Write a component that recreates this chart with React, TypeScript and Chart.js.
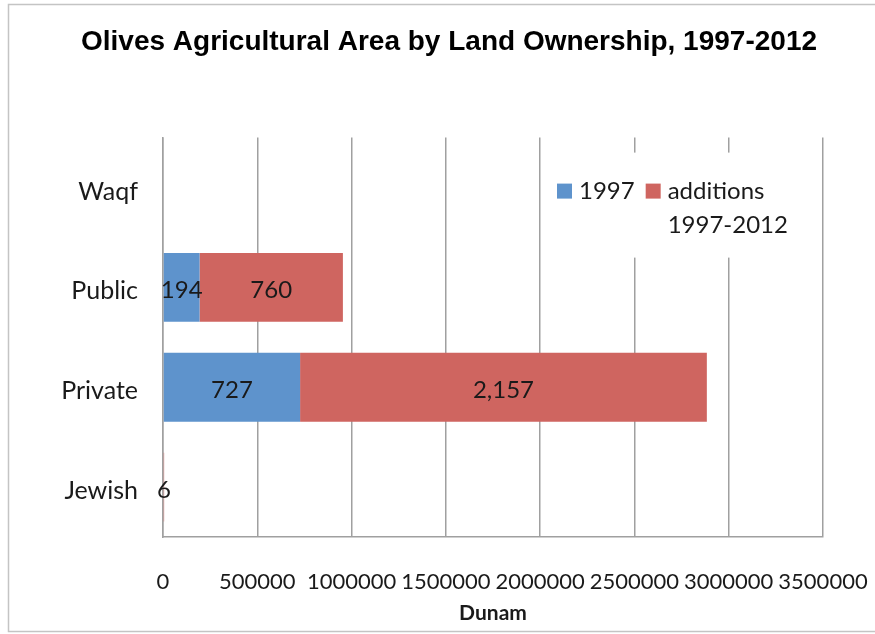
import React, { useEffect, useRef } from "react";
import { Chart, registerables } from "chart.js";

Chart.register(...registerables);

const titleText = "Olives Agricultural Area by Land Ownership, 1997-2012";
const axisTitle = "Dunam";
const categories = ["Waqf", "Public", "Private", "Jewish"];
const seriesNames = ["1997", "additions 1997-2012"];
const area1997 = [0, 194000, 727000, 0];
const additions19972012 = [0, 760000, 2157000, 6000];
const xMin = 0;
const xMax = 3500000;
const xStep = 500000;
const seriesColors = ["#5e93cc", "#cf6560"];

const FONT = "Lato, 'Open Sans', sans-serif";
const GRID = "#a0a0a0";

const framePlugin = {
  id: "frame",
  beforeDraw(chart: any) {
    const ctx = chart.ctx;
    ctx.save();
    ctx.fillStyle = "#ffffff";
    ctx.fillRect(0, 0, chart.width, chart.height);
    ctx.strokeStyle = "#c4c4c4";
    ctx.lineWidth = 1.5;
    ctx.strokeRect(8.5, 4.5, chart.width + 10, chart.height - 7);
    ctx.restore();
  },
};

const valueLabelPlugin = {
  id: "valueLabels",
  afterDatasetsDraw(chart: any) {
    const ctx = chart.ctx;
    ctx.save();
    ctx.font = `24px ${FONT}`;
    ctx.fillStyle = "#1a1a1a";
    ctx.textAlign = "center";
    ctx.textBaseline = "middle";
    chart.data.datasets.forEach((ds: any, i: number) => {
      const meta = chart.getDatasetMeta(i);
      meta.data.forEach((el: any, j: number) => {
        const v = ds.data[j];
        if (!v) return;
        const p = el.getCenterPoint();
        ctx.fillText(Math.round(v / 1000).toLocaleString("en-US"), p.x, p.y + 3);
      });
    });
    ctx.restore();
  },
};

const insideLegendPlugin = {
  id: "insideLegend",
  afterDatasetsDraw(chart: any) {
    const ctx = chart.ctx;
    const ca = chart.chartArea;
    const lx = ca.right - 278;
    const ly = ca.top + 15;
    ctx.save();
    ctx.fillStyle = "#ffffff";
    ctx.fillRect(lx, ly, 270, 105);
    ctx.font = `24px ${FONT}`;
    ctx.textBaseline = "middle";
    ctx.textAlign = "left";
    const rowY = ly + 39;
    const lineH = 34;
    const maxW = 120;
    let x = lx + 12;
    chart.data.datasets.forEach((ds: any) => {
      ctx.fillStyle = ds.backgroundColor;
      ctx.fillRect(x, rowY - 8, 15, 15);
      const tx = x + 22;
      const words = String(ds.label).split(" ");
      const lines: string[] = [];
      let cur = "";
      words.forEach((w) => {
        const test = cur ? cur + " " + w : w;
        if (cur && ctx.measureText(test).width > maxW) {
          lines.push(cur);
          cur = w;
        } else cur = test;
      });
      if (cur) lines.push(cur);
      ctx.fillStyle = "#1a1a1a";
      let wmax = 0;
      lines.forEach((ln, k) => {
        ctx.fillText(ln, tx, rowY + k * lineH);
        wmax = Math.max(wmax, ctx.measureText(ln).width);
      });
      x = tx + wmax + 11;
    });
    ctx.restore();
  },
};

export default function App() {
  const ref = useRef<HTMLCanvasElement | null>(null);

  useEffect(() => {
    document.body.style.margin = "0";
    if (!ref.current) return;
    const chart = new Chart(ref.current, {
      type: "bar",
      data: {
        labels: categories,
        datasets: [
          {
            label: seriesNames[0],
            data: area1997,
            backgroundColor: seriesColors[0],
            borderWidth: 0,
            barPercentage: 0.69,
            categoryPercentage: 1,
          },
          {
            label: seriesNames[1],
            data: additions19972012,
            backgroundColor: seriesColors[1],
            borderWidth: 0,
            barPercentage: 0.69,
            categoryPercentage: 1,
          },
        ],
      },
      options: {
        indexAxis: "y",
        responsive: false,
        animation: false,
        layout: { padding: { left: 25, right: 2, top: 0, bottom: 0 } },
        scales: {
          x: {
            type: "linear",
            stacked: true,
            min: xMin,
            max: xMax,
            grid: { color: GRID, lineWidth: 1.5, drawTicks: false },
            border: { display: true, color: GRID, width: 1.5 },
            ticks: {
              stepSize: xStep,
              autoSkip: false,
              maxRotation: 0,
              padding: 32,
              color: "#1a1a1a",
              font: { family: FONT, size: 22 },
              callback: (v: any) => String(v),
            },
            title: {
              display: true,
              text: axisTitle,
              color: "#1a1a1a",
              font: { family: FONT, size: 21, weight: "bold" },
              padding: { top: 4, bottom: 8 },
            },
            afterFit: (s: any) => {
              s.height = 97;
              s.paddingLeft = 0;
              s.paddingRight = 52;
            },
          },
          y: {
            type: "category",
            stacked: true,
            grid: { display: false, drawTicks: false },
            border: { display: true, color: GRID, width: 1.5 },
            ticks: {
              padding: 25,
              labelOffset: 4,
              color: "#1a1a1a",
              font: { family: FONT, size: 25 },
            },
            afterFit: (s: any) => {
              s.width = 138;
            },
          },
        },
        plugins: {
          legend: { display: false },
          tooltip: { enabled: false },
          title: {
            display: true,
            text: titleText,
            color: "#000000",
            font: { family: "'Liberation Sans', Arial, sans-serif", size: 28, weight: "bold" },
            padding: { top: 25, bottom: 79 },
          },
        },
      } as any,
      plugins: [framePlugin, valueLabelPlugin, insideLegendPlugin],
    });
    return () => chart.destroy();
  }, []);

  return (
    <div style={{ width: 875, height: 634 }}>
      <canvas ref={ref} width={875} height={634} style={{ display: "block" }} />
    </div>
  );
}
